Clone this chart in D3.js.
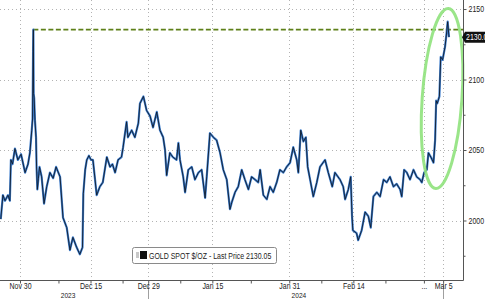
<!DOCTYPE html>
<html><head><meta charset="utf-8">
<script src="https://cdn.jsdelivr.net/npm/d3@7"></script>
<style>
body{margin:0;background:#fff}
svg{display:block}
text{font-family:"Liberation Sans",Arial,sans-serif}
</style>
</head><body><svg id="c" width="485" height="299"></svg>
<script>
// ---------- data ----------
const holidays = ["2023-12-25", "2024-01-01"];
const firstDay = "2023-11-27", lastDay = "2024-03-08";
const times = [
"2023-11-27T00","2023-11-27T08","2023-11-27T16","2023-11-28T03","2023-11-28T10","2023-11-28T14","2023-11-28T20",
"2023-11-29T05","2023-11-29T16","2023-11-30T04","2023-11-30T19","2023-12-01T06","2023-12-01T13","2023-12-01T20",
"2023-12-01T23","2023-12-04T01","2023-12-04T02","2023-12-04T03","2023-12-04T05","2023-12-04T08","2023-12-04T12",
"2023-12-04T14","2023-12-04T17","2023-12-04T21","2023-12-05T01","2023-12-05T09","2023-12-05T18","2023-12-06T04",
"2023-12-06T16","2023-12-07T04","2023-12-07T15","2023-12-08T06","2023-12-08T17","2023-12-11T07","2023-12-11T19",
"2023-12-12T06","2023-12-12T20","2023-12-13T08","2023-12-13T18","2023-12-13T21","2023-12-14T04","2023-12-14T10",
"2023-12-14T18","2023-12-15T02","2023-12-15T09","2023-12-15T17","2023-12-15T23","2023-12-18T11","2023-12-18T22",
"2023-12-19T13","2023-12-20T01","2023-12-20T10","2023-12-20T20","2023-12-21T07","2023-12-21T20","2023-12-22T02",
"2023-12-22T15","2023-12-22T20","2023-12-26T10","2023-12-26T22","2023-12-27T11","2023-12-27T17","2023-12-28T06",
"2023-12-28T18","2023-12-29T07","2023-12-29T18","2024-01-02T08","2024-01-02T20","2024-01-03T08","2024-01-03T15",
"2024-01-03T21","2024-01-04T09","2024-01-04T20","2024-01-05T10","2024-01-05T17","2024-01-05T23","2024-01-08T11",
"2024-01-08T18","2024-01-09T06","2024-01-09T19","2024-01-10T07","2024-01-10T20","2024-01-11T08","2024-01-11T21",
"2024-01-12T03","2024-01-12T15","2024-01-15T04","2024-01-15T16","2024-01-16T05","2024-01-16T17","2024-01-17T06",
"2024-01-17T18","2024-01-18T01","2024-01-18T13","2024-01-19T01","2024-01-19T14","2024-01-22T02","2024-01-22T15",
"2024-01-23T03","2024-01-23T16","2024-01-24T04","2024-01-24T11","2024-01-24T23","2024-01-25T12","2024-01-26T00",
"2024-01-26T12","2024-01-29T01","2024-01-29T13","2024-01-30T02","2024-01-30T14","2024-01-31T03","2024-01-31T15",
"2024-02-01T04","2024-02-01T10","2024-02-01T19","2024-02-02T05","2024-02-02T14","2024-02-02T21","2024-02-05T06",
"2024-02-05T18","2024-02-06T07","2024-02-06T19","2024-02-07T14","2024-02-08T02","2024-02-08T17","2024-02-09T03",
"2024-02-09T22","2024-02-12T10","2024-02-12T17","2024-02-13T05","2024-02-13T14","2024-02-13T19","2024-02-13T22",
"2024-02-14T12","2024-02-14T18","2024-02-15T07","2024-02-15T20","2024-02-16T08","2024-02-16T17","2024-02-19T03",
"2024-02-19T16","2024-02-20T04","2024-02-20T17","2024-02-21T05","2024-02-21T17","2024-02-22T06","2024-02-22T18",
"2024-02-23T07","2024-02-23T13","2024-02-23T22","2024-02-26T08","2024-02-26T20","2024-02-27T09","2024-02-27T21",
"2024-02-28T10","2024-02-28T16","2024-02-29T01","2024-02-29T11","2024-02-29T17","2024-03-01T02","2024-03-01T12",
"2024-03-01T18","2024-03-01T22","2024-03-04T02","2024-03-04T10","2024-03-04T15","2024-03-04T22","2024-03-05T07",
"2024-03-05T13","2024-03-05T17","2024-03-05T22"];
const prices = [
2001,2018,2014,2018,2014,2043,2040,
2051,2043,2047,2034,2040,2048,2064,
2072,2120,2135.4,2090,2087,2071,2059,
2038,2022,2030,2038,2031,2012,2024,
2034,2030,2038,2031,2002,1995,1979,
1988,1981,1976,1981,2019,2036,2043,
2046,2043,2043,2029,2018,2024,2027,
2045,2038,2040,2034,2043,2045,2052,
2070,2059,2064,2059,2069,2083,2088,
2078,2074,2066,2077,2064,2059,2050,
2032,2048,2045,2043,2055,2043,2031,
2020,2036,2038,2029,2034,2036,2016,
2031,2062,2059,2057,2048,2036,2029,
2008,2013,2020,2024,2036,2029,2022,
2031,2029,2027,2036,2018,2015,2024,
2020,2027,2036,2034,2038,2041,2052,
2043,2034,2064,2056,2059,2038,2029,
2017,2027,2038,2043,2034,2024,2034,
2029,2024,2015,2022,2031,2003,1993,
1991,1986,1993,2006,2003,1995,2017,
2020,2017,2029,2027,2031,2024,2026,
2022,2017,2036,2034,2029,2036,2031,
2029,2027,2034,2036,2048,2045,2041,
2057,2085,2083,2088,2116,2114,2123,
2133,2141,2130.05];
const xTickDates  = ["2023-11-30","2023-12-15","2023-12-29","2024-01-15","2024-01-31","2024-02-14","2024-02-29","2024-03-05"];
const xTickLabels = ["Nov 30","Dec 15","Dec 29","Jan 15","Jan 31","Feb 14","...","Mar 5"];
const xMinorDates = ["2023-12-08","2023-12-22","2024-01-08","2024-01-23","2024-02-07","2024-02-21"];
const yearDates   = ["2023-12-11T12","2024-02-01T12"];
const yearLabels  = ["2023","2024"];
const yearMarkDates = ["2023-12-29","2024-03-05"];
const yTicks = [2000,2050,2100,2150];
const yMinorTicks = [1975,2025,2075,2125];
const seriesName = "GOLD SPOT $/OZ";
const lastPrice = 2130.05;
const prevHigh = {time:"2023-12-04T02", value:2135.4};
const highlight = {time:"2024-03-04T20", value:2086.5, halfDays:3.1, halfRange:64};

// ---------- trading-day scale ----------
const fmt = d3.timeFormat("%Y-%m-%d"), parse = d3.timeParse("%Y-%m-%d");
const tradingDays = d3.timeDay.range(parse(firstDay), d3.timeDay.offset(parse(lastDay),1))
  .filter(d => d.getDay()!==0 && d.getDay()!==6 && !holidays.includes(fmt(d))).map(fmt);
const dayIndex = new Map(tradingDays.map((d,i)=>[d,i]));
const pos = t => { const [d,h] = t.split("T"); return dayIndex.get(d) + (h? +h/24 : 0); };

const W = 463, H = 280;
const x = d3.scaleLinear().domain([-0.12, tradingDays.length - 0.9]).range([0, W]);
const y = d3.scaleLinear().domain([1957.8, 2156.4]).range([H, 0]);

const svg = d3.select("#c");
const data = times.map((t,i)=>({t, v:prices[i]}));

// grid
const grid = svg.append("g").attr("stroke","#b3b3b3").attr("stroke-dasharray","1,3").attr("stroke-width",1);
yTicks.forEach(v=>grid.append("line").attr("x1",0).attr("x2",W).attr("y1",Math.round(y(v))+0.5).attr("y2",Math.round(y(v))+0.5));
xTickDates.forEach(d=>grid.append("line").attr("x1",Math.round(x(pos(d)))+0.5).attr("x2",Math.round(x(pos(d)))+0.5).attr("y1",0).attr("y2",H));

// year marks below axis
yearMarkDates.forEach(d=>svg.append("line").attr("x1",Math.round(x(pos(d)))+0.5).attr("x2",Math.round(x(pos(d)))+0.5)
  .attr("y1",H+3).attr("y2",299).attr("stroke","#a0a0a0"));

// previous high dashed line
svg.append("line").attr("x1",x(pos(prevHigh.time))).attr("x2",W).attr("y1",y(prevHigh.value)).attr("y2",y(prevHigh.value))
  .attr("stroke","#5e8019").attr("stroke-width",1.6).attr("stroke-dasharray","5,2.5");

// series
const line = d3.line().x(d=>x(pos(d.t))).y(d=>y(d.v));
svg.append("path").datum(data).attr("d",line).attr("fill","none").attr("stroke","#3f7fcf").attr("stroke-width",2.2).attr("stroke-linejoin","round");
svg.append("path").datum(data).attr("d",line).attr("fill","none").attr("stroke","#101c2c").attr("stroke-width",0.9).attr("stroke-linejoin","round");

// highlight ellipse
const cx = x(pos(highlight.time)), cy = y(highlight.value);
svg.append("ellipse").attr("cx",cx).attr("cy",cy)
  .attr("rx", x(highlight.halfDays) - x(0)).attr("ry", y(highlight.value - highlight.halfRange) - cy)
  .attr("transform",`rotate(4,${cx},${cy})`)
  .attr("fill","none").attr("stroke","#8fe27c").attr("stroke-width",3).attr("opacity",0.9);

// right axis
const ra = svg.append("g").attr("transform",`translate(${W+0.5},0)`)
  .call(d3.axisRight(y).tickValues(yTicks).tickSize(3).tickPadding(2).tickFormat(d3.format("d")));
svg.append("g").attr("transform",`translate(${W+0.5},0)`)
  .call(d3.axisRight(y).tickValues(yMinorTicks).tickSize(2).tickFormat(""))
  .call(g=>g.select(".domain").remove());
ra.select(".domain").attr("d",`M0,0V${H+0.5}`).attr("stroke","#555");
svg.selectAll(".tick line").attr("stroke","#555");
ra.selectAll("text").attr("font-size",8.5).attr("fill","#222").attr("font-family",null);

// bottom axis
const ba = svg.append("g").attr("transform",`translate(0,${H+0.5})`)
  .call(d3.axisBottom(x).tickValues(xTickDates.map(pos)).tickSize(3).tickPadding(0).tickFormat((d,i)=>xTickLabels[i]));
ba.select(".domain").attr("d",`M0,0H${W+0.5}`).attr("stroke","#555");
ba.selectAll("text").attr("font-size",8.5).attr("fill","#222").attr("font-family",null).attr("dy","0.68em");
ba.selectAll(".tick line").attr("stroke","#555");
svg.append("g").attr("transform",`translate(0,${H+0.5})`)
  .call(d3.axisBottom(x).tickValues(xMinorDates.map(pos)).tickSize(3).tickFormat(""))
  .call(g=>g.select(".domain").remove()).selectAll("line").attr("stroke","#555");
yearDates.forEach((d,i)=>svg.append("text").attr("x",x(pos(d))).attr("y",298).attr("text-anchor","middle")
  .attr("font-size",8).attr("fill","#222").text(yearLabels[i]));

// last price tag
const ly = y(lastPrice);
svg.append("path").attr("d",`M${W-1},${ly}L${W+2},${ly-5.5}H485V${ly+5.5}H${W+2}Z`).attr("fill","#111");
svg.append("text").attr("x",W+3).attr("y",ly+3).attr("font-size",8.5).attr("fill","#fff").text(d3.format(".2f")(lastPrice));

// legend
const lg = svg.append("g").attr("transform","translate(132,247)");
lg.append("rect").attr("x",0.5).attr("y",0.5).attr("width",144).attr("height",16).attr("rx",2)
  .attr("fill","#fff").attr("stroke","#8a8a8a");
lg.append("rect").attr("x",4).attr("y",5).attr("width",3).attr("height",6).attr("fill","#c8c8c8");
lg.append("rect").attr("x",8).attr("y",4).attr("width",7).attr("height",8).attr("fill","#111");
lg.append("text").attr("x",17).attr("y",11.5).attr("font-size",8.5).attr("fill","#222")
  .text(`${seriesName} - Last Price ${d3.format(".2f")(lastPrice)}`);

// condense all text horizontally (narrow face look)
svg.selectAll("text").each(function(){
  const w = this.getComputedTextLength();
  if (w > 0) d3.select(this).attr("textLength", w*0.82).attr("lengthAdjust","spacingAndGlyphs");
});
</script>
</body></html>
